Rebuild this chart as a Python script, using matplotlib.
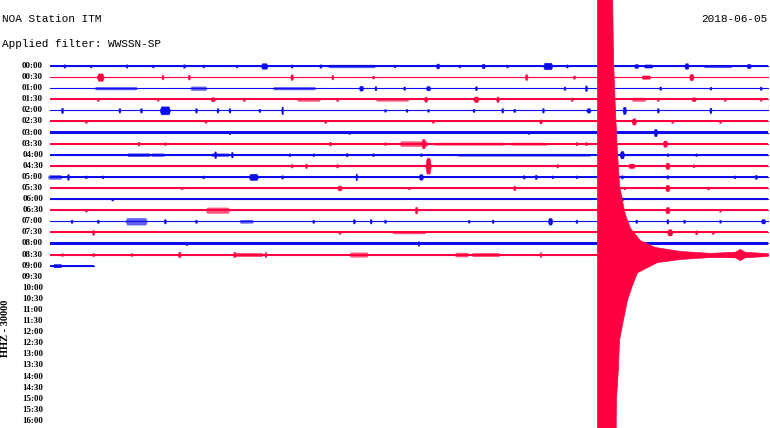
import matplotlib
matplotlib.use("Agg")
import matplotlib.pyplot as plt

# helicorder rows (30 min each)
row_labels = ["00:00", "00:30", "01:00", "01:30", "02:00", "02:30", "03:00", "03:30",
              "04:00", "04:30", "05:00", "05:30", "06:00", "06:30", "07:00", "07:30",
              "08:00", "08:30", "09:00", "09:30", "10:00", "10:30", "11:00", "11:30",
              "12:00", "12:30", "13:00", "13:30", "14:00", "14:30", "15:00", "15:30",
              "16:00"]

# minutes of data recorded in each row that has a trace
trace_end = [30] * 18 + [1.85]
# background noise half-amplitude per row (row spacing = 1)
noise_amp = [0.05, 0.05, 0.06, 0.09, 0.05, 0.09, 0.11, 0.06, 0.07, 0.07,
             0.05, 0.08, 0.10, 0.08, 0.05, 0.08, 0.10, 0.06, 0.08]

# small events: (row, minute, half-width in minutes, half-amplitude in rows)
bursts = [
    (0, 0.6, .05, .15), (0, 1.7, .05, .13), (0, 3.2, .05, .15), (0, 4.3, .05, .13),
    (0, 5.6, .06, .15), (0, 6.4, .05, .13), (0, 7.8, .05, .13), (0, 8.95, .15, .25),
    (0, 10.1, .05, .14), (0, 11.3, .06, .15), (0, 12.6, 1.0, .13), (0, 14.4, .05, .13),
    (0, 16.2, .08, .22), (0, 17.1, .05, .13), (0, 18.1, .08, .2), (0, 19.1, .05, .13),
    (0, 20.8, .2, .3), (0, 21.6, .05, .14), (0, 24.5, .1, .18), (0, 25.0, .2, .14),
    (0, 26.6, .1, .25), (0, 27.9, .6, .12), (0, 29.2, .1, .2),
    (1, 2.1, .15, .33), (1, 4.7, .05, .2), (1, 5.8, .05, .22), (1, 10.1, .06, .25),
    (1, 11.8, .05, .2), (1, 13.5, .05, .13), (1, 19.9, .06, .25), (1, 21.9, .05, .15),
    (1, 24.9, .2, .15), (1, 26.8, .1, .28),
    (2, 2.75, .9, .12), (2, 6.2, .35, .16), (2, 10.2, .9, .12), (2, 13.0, .1, .22),
    (2, 13.6, .05, .18), (2, 14.8, .05, .15), (2, 15.8, .1, .2), (2, 17.8, .05, .18),
    (2, 21.5, .05, .15), (2, 22.4, .05, .25), (2, 25.5, .05, .15), (2, 27.6, .05, .13),
    (2, 29.7, .05, .15),
    (3, 2.0, .05, .15), (3, 4.5, .05, .13), (3, 6.8, .1, .18), (3, 8.1, .05, .15),
    (3, 10.8, .5, .15), (3, 12.0, .05, .15), (3, 14.3, .7, .14), (3, 15.7, .08, .22),
    (3, 17.8, .12, .25), (3, 18.7, .06, .25), (3, 21.8, .05, .15), (3, 24.6, .3, .16),
    (3, 25.4, .05, .15), (3, 26.9, .1, .18), (3, 28.2, .05, .15), (3, 29.7, .05, .13),
    (4, 0.5, .05, .25), (4, 2.9, .05, .2), (4, 3.8, .05, .2), (4, 4.8, .22, .36),
    (4, 6.1, .05, .2), (4, 7.0, .05, .2), (4, 7.5, .05, .2), (4, 8.75, .05, .15),
    (4, 9.7, .04, .35), (4, 14.0, .05, .12), (4, 14.9, .05, .13), (4, 15.8, .05, .13),
    (4, 17.7, .05, .15), (4, 18.9, .05, .2), (4, 19.4, .05, .15), (4, 20.6, .05, .2),
    (4, 22.5, .1, .2), (4, 24.0, .08, .33), (4, 25.4, .05, .2), (4, 27.6, .05, .25),
    (5, 1.5, .05, .13), (5, 6.5, .05, .12), (5, 11.5, .05, .13), (5, 16.0, .05, .12),
    (5, 20.5, .06, .18), (5, 24.4, .1, .28), (5, 26.0, .05, .13), (5, 28.0, .05, .13),
    (6, 7.5, .05, .15), (6, 12.5, .05, .13), (6, 20.0, .05, .13), (6, 25.3, .08, .33),
    (7, 3.7, .05, .17), (7, 4.8, .05, .13), (7, 11.7, .05, .17), (7, 14.0, .05, .13),
    (7, 15.2, .6, .22), (7, 15.6, .08, .42), (7, 17.5, 1.5, .1), (7, 20.0, .8, .1),
    (7, 22.0, .05, .15), (7, 22.4, .05, .15), (7, 25.7, .1, .28),
    (8, 3.7, .5, .14), (8, 4.5, .3, .13), (8, 7.1, .4, .13), (8, 6.9, .05, .3),
    (8, 7.6, .05, .25), (8, 10.0, .05, .13), (8, 11.0, .05, .13), (8, 12.4, .05, .15),
    (8, 13.5, .05, .13), (8, 15.5, .05, .13), (8, 19.8, 2.8, .1), (8, 23.9, .1, .33),
    (8, 25.8, .05, .13), (8, 27.0, .05, .12),
    (9, 10.1, .05, .15), (9, 10.7, .05, .2), (9, 12.0, .05, .15), (9, 15.8, .12, .7),
    (9, 21.2, .05, .15), (9, 24.3, .15, .2), (9, 25.8, .1, .28), (9, 26.9, .05, .13),
    (10, 0.2, .3, .18), (10, 0.75, .05, .25), (10, 1.5, .05, .13), (10, 2.2, .05, .13),
    (10, 6.4, .05, .13), (10, 8.5, .2, .28), (10, 9.7, .05, .15), (10, 12.8, .04, .3),
    (10, 15.5, .1, .25), (10, 19.8, .05, .15), (10, 20.3, .05, .2), (10, 21.0, .05, .13),
    (10, 22.0, .05, .13), (10, 23.9, .05, .15), (10, 25.8, .05, .15), (10, 28.6, .05, .13),
    (10, 29.5, .05, .2),
    (11, 5.5, .05, .12), (11, 12.1, .1, .22), (11, 15.0, .05, .12), (11, 19.4, .05, .2),
    (11, 24.0, .05, .13), (11, 25.8, .1, .28), (11, 27.5, .05, .13),
    (12, 2.6, .05, .13), (12, 23.9, .05, .15),
    (13, 1.5, .05, .13), (13, 7.0, .5, .25), (13, 15.3, .06, .3), (13, 25.8, .1, .28),
    (13, 28.0, .05, .13),
    (14, 0.9, .05, .15), (14, 2.0, .05, .15), (14, 3.6, .45, .3), (14, 4.8, .05, .2),
    (14, 6.1, .05, .15), (14, 8.2, .3, .14), (14, 11.0, .05, .15), (14, 12.7, .05, .2),
    (14, 13.4, .05, .2), (14, 14.0, .05, .15), (14, 17.5, .05, .13), (14, 18.5, .05, .15),
    (14, 20.9, .1, .3), (14, 22.0, .05, .15), (14, 24.5, .05, .15), (14, 25.8, .05, .2),
    (14, 26.5, .05, .15), (14, 28.0, .05, .13), (14, 29.8, .1, .2),
    (15, 1.8, .05, .22), (15, 12.1, .05, .15), (15, 15.0, .7, .1), (15, 25.9, .12, .28),
    (15, 27.0, .05, .18), (15, 27.7, .05, .15),
    (16, 5.7, .05, .15), (16, 15.4, .05, .2),
    (17, 0.5, .05, .13), (17, 1.8, .05, .15), (17, 3.4, .05, .13), (17, 5.4, .06, .25),
    (17, 7.7, .05, .25), (17, 8.3, .6, .16), (17, 9.0, .05, .22), (17, 12.9, .4, .2),
    (17, 17.2, .3, .18), (17, 18.2, .6, .16), (17, 20.5, .05, .2),
    (18, 0.3, .2, .15),
]

# the big earthquake on the 08:30 row: envelope above and below the trace (rows)
quake_row = 17
quake_t_up = [22.86, 23.48, 23.53, 23.61, 23.69, 23.78, 23.9, 24.03, 24.24, 24.65,
              25.28, 26.33, 27.58, 28.62, 28.83, 29.04, 30.0]
quake_up = [25, 25, 17.5, 13.0, 9.4, 6.3, 4.9, 3.6, 2.4, 1.3,
            0.68, 0.32, 0.15, 0.25, 0.5, 0.25, 0.12]
quake_t_down = [22.86, 23.61, 23.65, 23.73, 23.78, 23.94, 24.11, 24.32, 24.53, 25.36,
                26.33, 27.58, 28.62, 28.83, 29.04, 30.0]
quake_down = [25, 25, 13.1, 10.4, 7.7, 5.9, 4.1, 2.75, 1.6, 0.68,
              0.4, 0.22, 0.25, 0.5, 0.25, 0.12]

BLUE = '#0c0cec'
RED = '#ff0040'

fig = plt.figure(figsize=(7.7, 4.28), dpi=100)
ax = fig.add_axes([0, 0, 1, 1])
ax.set_xlim(-2.09, 30.09)
ax.set_ylim(32.64, -5.95)
ax.axis('off')

for i, end in enumerate(trace_end):
    c = BLUE if i % 2 == 0 else RED
    n = noise_amp[i]
    ax.fill_between([0, end], [i - n, i - n], [i + n, i + n], color=c, lw=0)
    ax.plot([0, end], [i, i], color=c, lw=0.8)

for r, t, w, a in bursts:
    c = BLUE if r % 2 == 0 else RED
    ramp = min(0.5 * w, 0.06)   # short rise/fall so long bursts look like bands
    xs = [t - w, t - w + ramp, t + w - ramp, t + w]
    # long noisy stretches look lighter than sharp spikes
    alpha = 0.65 if w >= 0.3 else 1.0
    ax.fill_between(xs, [r, r - a, r - a, r], [r, r + a, r + a, r],
                    color=c, lw=0.3, alpha=alpha)

ax.fill_between(quake_t_up, [quake_row - u for u in quake_up], quake_row,
                color=RED, lw=0.5, zorder=5)
ax.fill_between(quake_t_down, quake_row, [quake_row + d for d in quake_down],
                color=RED, lw=0.5, zorder=5)

for i, lab in enumerate(row_labels):
    ax.text(-0.29, i, lab, ha='right', va='center', fontsize=6.5,
            family='Liberation Serif', fontweight='bold')

mono = 'Liberation Mono'
fig.text(2 / 770, 1 - 19 / 428, "NOA Station ITM", ha='left', va='center',
         fontsize=8, family=mono)
fig.text(2 / 770, 1 - 44 / 428, "Applied filter: WWSSN-SP", ha='left', va='center',
         fontsize=8, family=mono)
fig.text(767 / 770, 1 - 19 / 428, "2018-06-05", ha='right', va='center',
         fontsize=8, family=mono)
fig.text(5.5 / 770, 1 - 328 / 428, "HHZ - 30000", ha='center', va='center',
         rotation=90, fontsize=7.5, family='Liberation Serif', fontweight='bold')

fig.savefig('out.png', dpi=100)
